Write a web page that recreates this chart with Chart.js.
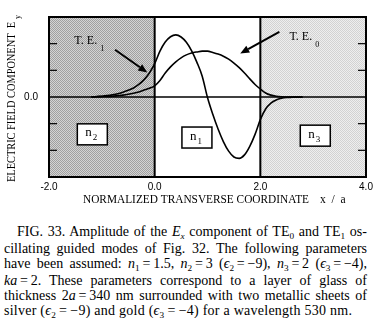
<!DOCTYPE html>
<html>
<head>
<meta charset="utf-8">
<script src="https://cdn.jsdelivr.net/npm/chart.js@4.4.0/dist/chart.umd.min.js"></script>
<style>
  html, body { margin: 0; padding: 0; background: #fff; }
  #wrap { position: absolute; left: 0; top: 0; width: 383px; height: 212px; }
  #cap { position: absolute; left: 4px; top: 224px; width: 363px;
         font-family: "Liberation Serif", "Times New Roman", serif; font-size: 14px;
         line-height: 15px; color: #000; }
  #cap .l { text-align: justify; text-align-last: justify; }
  #cap .last { text-align: left; letter-spacing: 0.25px; }
  #cap sub { font-size: 0.66em; vertical-align: baseline; position: relative; top: 3px; }
</style>
</head>
<body>
<div id="wrap"><canvas id="c"></canvas></div>
<div id="cap">
  <div class="l" style="text-indent:13px">FIG. 33. Amplitude of the <i>E<sub>x</sub></i> component of TE<sub>0</sub> and TE<sub>1</sub> os-</div>
  <div class="l">cillating guided modes of Fig. 32. The following parameters</div>
  <div class="l">have been assumed: <i>n</i><sub>1</sub>&#8201;=&#8201;1.5, <i>n</i><sub>2</sub>&#8201;=&#8201;3 (<i>ϵ</i><sub>2</sub>&#8201;=&#8201;−9), <i>n</i><sub>3</sub>&#8201;=&#8201;2 (<i>ϵ</i><sub>3</sub>&#8201;=&#8201;−4),</div>
  <div class="l"><i>ka</i>&#8201;=&#8201;2. These parameters correspond to a layer of glass of</div>
  <div class="l">thickness 2<i>a</i>&#8201;=&#8201;340 nm surrounded with two metallic sheets of</div>
  <div class="last">silver (<i>ϵ</i><sub>2</sub>&#8201;=&#8201;−9) and gold (<i>ϵ</i><sub>3</sub>&#8201;=&#8201;−4) for a wavelength 530 nm.</div>
</div>
<script>
// ---- data ----
const xCoord = [-1.2,-1.1,-1.0,-0.9,-0.8,-0.7,-0.6,-0.5,-0.4,-0.3,-0.2,-0.1,0.0,
  0.1,0.2,0.3,0.4,0.5,0.6,0.7,0.8,0.9,1.0,1.1,1.2,1.3,1.4,1.5,1.6,1.7,1.8,1.9,2.0,
  2.1,2.2,2.3,2.4,2.5,2.6,2.7,2.8];
const te1Values = [0,0.02,0.03,0.05,0.08,0.12,0.18,0.25,0.34,0.47,0.65,0.9,1.25,
  1.72,2.06,2.26,2.33,2.25,2.05,1.73,1.3,0.78,-0.02,-0.65,-1.2,-1.67,-2.03,-2.25,-2.3,-2.17,-1.85,-1.4,-0.85,
  -0.45,-0.23,-0.11,-0.05,-0.02,-0.01,0,0];
const te0Values = [0,0.01,0.015,0.02,0.03,0.05,0.07,0.1,0.14,0.19,0.26,0.33,0.42,
  0.62,0.9,1.13,1.32,1.47,1.58,1.65,1.69,1.72,1.72,1.67,1.61,1.53,1.42,1.27,1.1,0.9,0.68,0.47,0.3,
  0.15,0.07,0.03,0.01,0,0,0,0];
const xTicks = [-2, 0, 2, 4];
const yTickLabelled = [0];
const yMarks = [-2, -1, 1, 2];
const boundaries = [0, 2];
const regionLabels = [
  {n: "n", sub: "2", x: -1.18, y: -1.4},
  {n: "n", sub: "1", x: 0.8, y: -1.52},
  {n: "n", sub: "3", x: 3.04, y: -1.45}
];
const modeLabels = [
  {text: "T. E.", sub: "1", x: -1.52, y: 2.12, ax0: -0.75, ay0: 1.77, ax1: -0.14, ay1: 0.92},
  {text: "T. E.", sub: "0", x: 2.55, y: 2.26, ax0: 2.36, ay0: 2.44, ax1: 1.62, ay1: 1.63}
];
const xTitle = "NORMALIZED TRANSVERSE COORDINATE";
const xTitleVar = "x  /  a";
const yTitle = "ELECTRIC FIELD COMPONENT  E";
const yTitleSub = "y";

function pattern(c1, c2) {
  const p = document.createElement('canvas');
  p.width = 2; p.height = 2;
  const g = p.getContext('2d');
  g.fillStyle = c1; g.fillRect(0,0,2,2);
  g.fillStyle = c2; g.fillRect(0,0,1,1); g.fillRect(1,1,1,1);
  return g.createPattern(p, 'repeat');
}

const serif = '"Liberation Serif", "Times New Roman", serif';

const figPlugin = {
  id: 'fig',
  beforeDatasetsDraw(chart) {
    const {ctx, chartArea: a, scales: {x, y}} = chart;
    ctx.save();
    const b0 = x.getPixelForValue(boundaries[0]);
    const b1 = x.getPixelForValue(boundaries[1]);
    ctx.fillStyle = pattern('#d4d4d4', '#a0a0a0');
    ctx.fillRect(a.left, a.top, b0 - a.left, a.bottom - a.top);
    ctx.fillStyle = pattern('#eeeeee', '#d2d2d2');
    ctx.fillRect(b1, a.top, a.right - b1, a.bottom - a.top);
    const y0 = y.getPixelForValue(0);
    ctx.strokeStyle = '#000'; ctx.lineWidth = 1.5;
    ctx.beginPath(); ctx.moveTo(a.left, y0); ctx.lineTo(a.right, y0); ctx.stroke();
    ctx.lineWidth = 2;
    [b0, b1].forEach(bx => { ctx.beginPath(); ctx.moveTo(bx, a.top); ctx.lineTo(bx, a.bottom); ctx.stroke(); });
    regionLabels.forEach(r => {
      const cx = x.getPixelForValue(r.x), cy = y.getPixelForValue(r.y);
      ctx.fillStyle = '#fff';
      ctx.fillRect(cx - 15, cy - 10.5, 30, 21);
      ctx.lineWidth = 1.5; ctx.strokeStyle = '#000';
      ctx.strokeRect(cx - 15, cy - 10.5, 30, 21);
      ctx.fillStyle = '#000';
      ctx.font = '13px ' + serif;
      ctx.textBaseline = 'alphabetic'; ctx.textAlign = 'left';
      ctx.fillText(r.n, cx - 7, cy + 2);
      ctx.font = '9px ' + serif;
      ctx.fillText(r.sub, cx + 0.5, cy + 6);
    });
    ctx.restore();
  },
  afterDatasetsDraw(chart) {
    const {ctx, chartArea: a, scales: {x, y}} = chart;
    ctx.save();
    ctx.strokeStyle = '#000'; ctx.lineWidth = 2;
    ctx.strokeRect(a.left, a.top, a.right - a.left, a.bottom - a.top);
    ctx.lineWidth = 1.2;
    yMarks.forEach(v => {
      const py = y.getPixelForValue(v);
      ctx.beginPath(); ctx.moveTo(a.left, py); ctx.lineTo(a.left + 8, py); ctx.stroke();
      ctx.beginPath(); ctx.moveTo(a.right, py); ctx.lineTo(a.right - 8, py); ctx.stroke();
    });
    modeLabels.forEach(m => {
      ctx.fillStyle = '#000';
      ctx.font = '12px ' + serif; ctx.textAlign = 'left'; ctx.textBaseline = 'middle';
      const lx = x.getPixelForValue(m.x), ly = y.getPixelForValue(m.y);
      ctx.fillText(m.text, lx, ly);
      const w = ctx.measureText(m.text).width;
      ctx.font = '8px ' + serif;
      ctx.fillText(m.sub, lx + w + 3, ly + 8);
      const x0 = x.getPixelForValue(m.ax0), y0 = y.getPixelForValue(m.ay0);
      const x1 = x.getPixelForValue(m.ax1), y1 = y.getPixelForValue(m.ay1);
      const ang = Math.atan2(y1 - y0, x1 - x0);
      const hl = 9, hw = 3.8;
      const bx = x1 - hl * Math.cos(ang), by = y1 - hl * Math.sin(ang);
      ctx.lineWidth = 2;
      ctx.beginPath(); ctx.moveTo(x0, y0); ctx.lineTo(bx, by); ctx.stroke();
      ctx.beginPath();
      ctx.moveTo(x1, y1);
      ctx.lineTo(bx + hw * Math.sin(ang), by - hw * Math.cos(ang));
      ctx.lineTo(bx - hw * Math.sin(ang), by + hw * Math.cos(ang));
      ctx.closePath(); ctx.fill();
    });
    ctx.fillStyle = '#000';
    ctx.font = '11.5px ' + serif; ctx.textAlign = 'left'; ctx.textBaseline = 'alphabetic';
    ctx.fillText(xTitle, 83, 203, 226);
    ctx.fillText(xTitleVar, 320, 203);
    ctx.save();
    ctx.translate(14.5, 182);
    ctx.rotate(-Math.PI / 2);
    ctx.font = '11.5px ' + serif;
    const tw = Math.min(ctx.measureText(yTitle).width, 160);
    ctx.fillText(yTitle, 0, 0, 160);
    ctx.font = '8px ' + serif;
    ctx.fillText(yTitleSub, tw + 3, 5);
    ctx.restore();
    ctx.restore();
  }
};

new Chart(document.getElementById('c'), {
  type: 'line',
  data: {
    datasets: [
      { label: 'TE1', data: xCoord.map((v, i) => ({x: v, y: te1Values[i]})),
        borderColor: '#000', borderWidth: 1.6, pointRadius: 0, tension: 0.4, cubicInterpolationMode: 'monotone', fill: false },
      { label: 'TE0', data: xCoord.map((v, i) => ({x: v, y: te0Values[i]})),
        borderColor: '#000', borderWidth: 1.6, pointRadius: 0, tension: 0.4, cubicInterpolationMode: 'monotone', fill: false }
    ]
  },
  options: {
    responsive: true, maintainAspectRatio: false, animation: false, devicePixelRatio: 1,
    layout: { padding: { left: 0, right: 17, top: 7, bottom: 0 } },
    plugins: { legend: { display: false }, tooltip: { enabled: false } },
    scales: {
      x: { type: 'linear', min: -2, max: 4,
        grid: { display: false, drawTicks: false }, border: { display: false },
        afterBuildTicks: s => { s.ticks = xTicks.map(v => ({value: v})); },
        afterFit: s => { s.height = 35; },
        ticks: { padding: 4, color: '#000', font: { family: '"Liberation Sans", Arial, sans-serif', size: 10 },
          maxRotation: 0, autoSkip: false, callback: v => v.toFixed(1) } },
      y: { type: 'linear', min: -3, max: 3,
        grid: { display: false, drawTicks: false }, border: { display: false },
        afterBuildTicks: s => { s.ticks = yTickLabelled.map(v => ({value: v})); },
        afterFit: s => { s.width = 49; },
        ticks: { padding: 11, color: '#000', font: { family: '"Liberation Sans", Arial, sans-serif', size: 10 },
          callback: v => v.toFixed(1) } }
    }
  },
  plugins: [figPlugin]
});
</script>
</body>
</html>
